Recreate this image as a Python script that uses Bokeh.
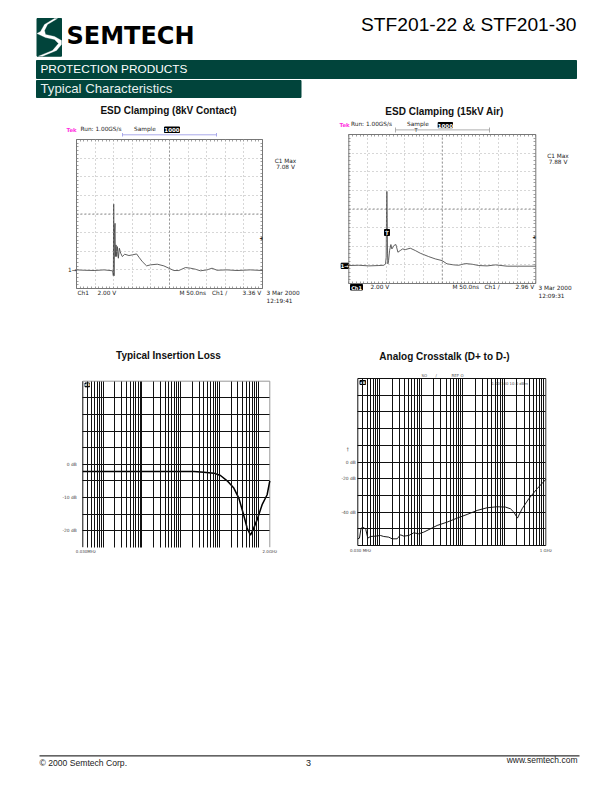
import math
from bokeh.plotting import figure
from bokeh.models import Range1d, FixedTicker, LinearAxis, LogScale
from bokeh.core.properties import value
from bokeh.embed import file_html
from bokeh.resources import INLINE

# ---------- data ----------
t8 = [0, 20.5, 47.3, 74.1, 97.3, 99.1, 100, 100.9, 101.8, 103.6, 104.5, 106.3, 108, 109.8, 112.5, 115.2,
      118.8, 123.2, 129.5, 141, 150, 161.6, 167.9, 176.8, 188.4, 199, 217, 234.8, 248.2, 261.6, 275,
      292.9, 306.3, 319.7, 333, 350.9, 364.3, 377.7, 404.5, 431.3, 467, 500]
v8 = [0, -0.04, -0.07, 0, -0.1, -0.64, 7.08, -0.64, 3.93, 5.0, 1.43, 2.68, 1.43, 2.5, 1.25, 2.32,
      1.79, 1.43, 1.68, 1.54, 1.61, 1.71, 1.36, 0.89, 0.43, 0.54, 0.61, 0.43, 0.18, -0.07, -0.07,
      0.25, 0.18, 0.07, -0.1, 0, 0.18, -0.04, 0, -0.07, 0, -0.07]
t15 = [0, 26.8, 53.6, 80.4, 93.8, 98.2, 100, 100.9, 101.8, 102.7, 103.6, 104.5, 106.3, 109, 112.5, 115.2,
       121.5, 126, 131.3, 137.6, 143.9, 151, 164.4, 177.8, 191.2, 213.5, 231.4, 249.2, 262.6, 280.5,
       293.9, 311.8, 329.6, 347.5, 369.8, 392.1, 423.4, 500]
v15 = [-0.07, -0.04, -0.11, -0.07, -0.04, 0.11, 0.82, 5.46, 7.89, 5.11, 1.18, 0.11, 0.46, 1.54, 2.18, 1.71,
       2.11, 2.18, 1.36, 1.54, 1.71, 1.64, 1.79, 1.54, 1.25, 0.89, 0.64, 0.46, 0.11, 0, -0.04, 0.14,
       0.07, -0.07, -0.11, 0, -0.14, -0.14]
f_loss = [0.03, 0.231, 1.67, 12.1, 21.9, 39.7, 71.9, 107, 159, 236, 317, 410, 520, 634, 743, 942, 1268, 1707, 2000]
db_loss = [-2.2, -2.2, -2.2, -2.2, -2.2, -2.4, -2.7, -3.4, -5, -7.2, -10.2, -14.7, -19.2, -21.4, -19.7, -16.7, -12.2, -9.2, -5]
f_xtalk = [0.03, 0.0329, 0.036, 0.0418, 0.0467, 0.0522, 0.0605, 0.0798, 0.105, 0.126, 0.167, 0.201, 0.265, 0.318,
           0.384, 0.506, 0.667, 0.881, 1.16, 1.68, 2.43, 4.23, 7.35, 12.8, 22.3, 38.7, 67.5, 107, 141, 170, 208,
           269, 390, 618, 1000]
db_xtalk = [-56, -55.6, -49.6, -49.2, -50.4, -55.6, -54.6, -54.4, -54, -54.6, -55, -56, -56, -53.6,
            -54.4, -54, -52.4, -53, -52, -50, -48, -46, -43.6, -41.4, -39, -37.4, -36.8, -37, -38, -40, -43.6,
            -38, -32, -26, -20.4]
log_mantissas = [1, 2, 3, 4, 5, 6, 7, 8, 9]
log_decades = [-2, -1, 0, 1, 2, 3]
scope_time_ticks = [50, 100, 150, 200, 250, 300, 350, 400, 450]
scope_volt_ticks = [0, 2, 4, 6, 8, 10, 12]
scope_time_fine = list(range(0, 501, 10))
scope_volt_fine = [x * 0.4 for x in range(-5, 36)]
loss_db_labels = {0: "0 dB", -10: "-10 dB", -20: "-20 dB"}
loss_db_grid = [-20, -15, -10, -5, 0, 5, 10, 15, 20]
loss_f_labels = {0.036: "0.030MHz", 2000: "2.0GHz"}
xtalk_db_grid = [-50, -40, -30, -20, -10, 0, 10, 20, 30]
xtalk_db_labels = {-10: "0 dB", -20: "-20 dB", -40: "-40 dB"}
xtalk_f_labels = {0.035: "0.030 MHz", 1000: "1 GHz"}

W, H = 596, 776
GREEN = "#01443B"
SANS = "Liberation Sans"
SMALL = "DejaVu Sans"

p = figure(width=W, height=H, x_range=Range1d(0, W), y_range=Range1d(H, 0),
           output_backend="svg", toolbar_location=None, min_border=0)
p.axis.visible = False
p.grid.visible = False
p.outline_line_color = None


def text(x, y, s, size, color="#000", font=SANS, style="normal", align="left"):
    p.text([x], [y - 0.36 * size], text=[s], text_font_size=f"{size}px", text_color=color,
           text_font=value(font), text_font_style=style, text_align=align, text_baseline="alphabetic")


def small(x, y, s, size=5.8, color="#222", style="normal", align="left"):
    text(x, y, s, size, color=color, font=SMALL, style=style, align=align)


def boxed(x0, x1, y0, y1, s, size=5.5):
    p.quad(left=[x0], right=[x1], top=[y0], bottom=[y1], color="#000")
    text((x0 + x1) / 2, y1 - 0.6, s, size, color="white", font=SMALL, style="bold", align="center")


def add_ranges(name, frame, xr, yr, log=False):
    """Register a chart's own x and y scales: its data ranges land exactly on its frame rectangle."""
    left, right, top, bottom = frame
    tf = math.log10 if log else (lambda v: v)
    inv = (lambda v: 10 ** v) if log else (lambda v: v)
    sx = (tf(xr[1]) - tf(xr[0])) / (right - left)
    p.extra_x_ranges[name + "x"] = Range1d(inv(tf(xr[0]) - left * sx), inv(tf(xr[0]) + (W - left) * sx))
    if log:
        p.extra_x_scales[name + "x"] = LogScale()
    sy = (yr[1] - yr[0]) / (bottom - top)
    p.extra_y_ranges[name + "y"] = Range1d(yr[0] - (H - bottom) * sy, yr[0] + bottom * sy)


def rule_axis(name, side, loc, bounds, ticks, length, color="#777", dash="solid", width=0.7):
    """An axis without labels; its (minor) ticks run inward and may span the frame as grid lines."""
    ax = LinearAxis(x_range_name=name + "x", y_range_name=name + "y", fixed_location=loc, bounds=bounds,
                    ticker=FixedTicker(ticks=[], minor_ticks=list(ticks)))
    ax.axis_line_color = None
    ax.major_tick_line_color = None
    ax.minor_tick_out = 0
    ax.minor_tick_in = round(length)
    ax.minor_tick_line_color = color
    ax.minor_tick_line_dash = dash
    ax.minor_tick_line_width = width
    p.add_layout(ax, side)


def label_axis(name, side, loc, bounds, labels, font, standoff):
    ax = LinearAxis(x_range_name=name + "x", y_range_name=name + "y", fixed_location=loc, bounds=bounds,
                    ticker=FixedTicker(ticks=list(labels)))
    ax.axis_line_color = None
    ax.major_tick_line_color = None
    ax.minor_tick_line_color = None
    ax.major_tick_in = 0
    ax.major_tick_out = 0
    ax.major_label_overrides = labels
    ax.major_label_text_font = SMALL
    ax.major_label_text_font_size = f"{font}px"
    ax.major_label_text_color = "#444"
    ax.major_label_standoff = standoff
    p.add_layout(ax, side)


def edges(name, xr, yr, colors, width=1.0):
    l, r, t, b = colors
    kw = dict(x_range_name=name + "x", y_range_name=name + "y", line_width=width)
    if l:
        p.line([xr[0], xr[0]], [yr[0], yr[1]], line_color=l, **kw)
    if r:
        p.line([xr[1], xr[1]], [yr[0], yr[1]], line_color=r, **kw)
    if t:
        p.line([xr[0], xr[1]], [yr[1], yr[1]], line_color=t, **kw)
    if b:
        p.line([xr[0], xr[1]], [yr[0], yr[0]], line_color=b, **kw)


def scope(name, frame, t, v):
    xr, yr = (0, 500), (-2, 14)
    left, right, top, bottom = frame
    add_ranges(name, frame, xr, yr)
    w, h = right - left, bottom - top
    # dotted division grid and fine ticks along every border
    rule_axis(name, "below", yr[0], xr, scope_time_ticks, h, color="#999", dash="1 3", width=0.8)
    rule_axis(name, "left", xr[0], yr, scope_volt_ticks, w, color="#999", dash="1 3", width=0.8)
    rule_axis(name, "below", yr[0], xr, scope_time_fine, 2)
    rule_axis(name, "above", yr[1], xr, scope_time_fine, 2)
    rule_axis(name, "left", xr[0], yr, scope_volt_fine, 2)
    rule_axis(name, "right", xr[1], yr, scope_volt_fine, 2)
    # centre crosshair
    kw = dict(x_range_name=name + "x", y_range_name=name + "y", line_color="#777", line_width=0.8, line_dash="2 2")
    p.line([250, 250], list(yr), **kw)
    p.line(list(xr), [6, 6], **kw)
    edges(name, xr, yr, ("#777", "#777", "#777", "#777"))
    p.line(t, v, x_range_name=name + "x", y_range_name=name + "y", line_color="#444", line_width=0.85)


def bode(name, frame, f, db, xr, yr, grid, tick_labels, f_labels, lw, colors, y_standoff):
    left, right, top, bottom = frame
    add_ranges(name, frame, xr, yr, log=True)
    w, h = right - left, bottom - top
    decades = [10.0 ** e for e in log_decades]
    fine = [m * d for d in decades for m in log_mantissas]
    rule_axis(name, "below", yr[0], xr, [m for m in fine if xr[0] < m < xr[1]], h, color="#111", width=1)
    rule_axis(name, "left", xr[0], yr, grid, w, color="#111", width=1)
    edges(name, xr, yr, colors)
    label_axis(name, "below", yr[0], xr, f_labels, 4.0, 2)
    label_axis(name, "left", xr[0], yr, tick_labels, 4.4, y_standoff)
    p.line(f, db, x_range_name=name + "x", y_range_name=name + "y", line_color="#000", line_width=lw)


# ---------- header ----------
p.quad(left=[36.5], right=[61], top=[18], bottom=[55.7], color=GREEN)
p.patch([54, 44, 40, 36.5, 45, 54, 58, 52, 38, 42, 56, 61, 61, 54, 45, 44, 47, 57],
        [18, 24, 31, 33, 37, 39, 43, 50, 55.7, 55.7, 50, 44, 40, 36, 34, 30, 24, 18],
        color="white", line_color="white", line_width=0.3)
text(66, 44, "SEMTECH", 24, font="DejaVu Sans", style="bold")
text(576, 30.5, "STF201-22 & STF201-30", 19.2, align="right")
p.quad(left=[36], right=[576], top=[60], bottom=[78], color=GREEN)
p.quad(left=[36], right=[300.5], top=[80], bottom=[97], color=GREEN)
text(40, 73, "PROTECTION PRODUCTS", 11.8, color="white")
text(40, 93, "Typical Characteristics", 13.2, color="#e8f0ee")

# ---------- ESD clamping, 8 kV ----------
text(168, 114, "ESD Clamping (8kV Contact)", 10, color="#111", style="bold", align="center")
scope("a", (76, 262, 139, 288), t8, v8)
small(66, 131, "Tek", size=5.4, color="#ff30e0", style="bold")
small(80, 131, "Run: 1.00GS/s")
small(133.5, 131, "Sample")
boxed(164, 179, 126.5, 132, "1000")
p.segment([122, 122, 216], [134.3, 132.5, 132.5], [216, 122, 216], [134.3, 136, 136], line_color="#a0a0e8", line_width=0.9)
small(285, 163, "C1 Max", align="center")
small(285, 169, "7.08 V", align="center")
small(259, 240, "\u25c2")
small(67.5, 272, "1\u2192")
small(77, 294.5, "Ch1")
small(97, 294.5, "2.00 V")
small(179, 294.5, "M 50.0ns")
small(211.5, 294.5, "Ch1 \u2215")
small(242, 294.5, "3.36 V")
small(266, 295, "3 Mar 2000")
small(266, 302.5, "12:19:41")

# ---------- ESD clamping, 15 kV ----------
text(444, 115, "ESD Clamping (15kV Air)", 10, color="#111", style="bold", align="center")
scope("b", (348.3, 535.3, 134, 283), t15, v15)
small(339, 126, "Tek", size=5.4, color="#ff30e0", style="bold")
small(350.5, 126, "Run: 1.00GS/s")
small(406.5, 126, "Sample")
boxed(437.7, 452, 122, 127.2, "1000")
p.segment([395, 395, 489], [129.4, 127, 127], [489, 395, 489], [129.4, 132, 132], line_color="#999", line_width=0.8)
small(414, 131.5, "T", size=5)
small(557.5, 158, "C1 Max", align="center")
small(557.5, 164, "7.88 V", align="center")
small(532, 238.5, "\u25c2")
boxed(340.7, 347.7, 262.7, 268, "1\u2192", size=5)
boxed(384, 389, 229, 235, "T", size=5)
boxed(350, 362, 284, 289.5, "Ch1", size=5)
small(370, 289, "2.00 V")
small(452, 289, "M 50.0ns")
small(484, 289, "Ch1 \u2215")
small(515, 289, "2.96 V")
small(538, 290, "3 Mar 2000")
small(538, 297.5, "12:09:31")

# ---------- insertion loss ----------
text(168, 359, "Typical Insertion Loss", 10, color="#111", style="bold", align="center")
bode("c", (82.3, 269.3, 380.7, 546.7), f_loss, db_loss, (0.03, 2000), (-25, 25), loss_db_grid,
     loss_db_labels, loss_f_labels, 1.5, ("#111", "#999", "#999", None), 6)
boxed(84.5, 89, 382.5, 386.3, "dB", size=3.5)

# ---------- crosstalk ----------
text(444, 359.7, "Analog Crosstalk (D+ to D-)", 10, color="#111", style="bold", align="center")
bode("d", (357.3, 545.3, 378, 545), f_xtalk, db_xtalk, (0.03, 1000), (-60, 40), xtalk_db_grid,
     xtalk_db_labels, xtalk_f_labels, 0.9, ("#111", "#333", "#111", "#111"), 2)
boxed(359.5, 365, 380, 384, "dB", size=3.5)
small(421, 376, "SO", size=4, color="#555")
small(435, 376, "/", size=4, color="#555")
small(451, 376, "REF O", size=4, color="#555")
small(491, 384, "1.00 100 10.0 dBm", size=3.8, color="#444")
small(346, 450, "\u2020", size=5, color="#444")

# ---------- footer ----------
p.segment([39], [755.4], [579], [755.4], line_color="#000", line_width=1)
text(39, 765.8, "\u00a9 2000 Semtech Corp.", 8.6, color="#222")
text(308, 765.8, "3", 9, color="#222", align="center")
text(577, 762.8, "www.semtech.com", 8.5, color="#222", align="right")

open("out.html", "w").write(file_html(p, INLINE))
